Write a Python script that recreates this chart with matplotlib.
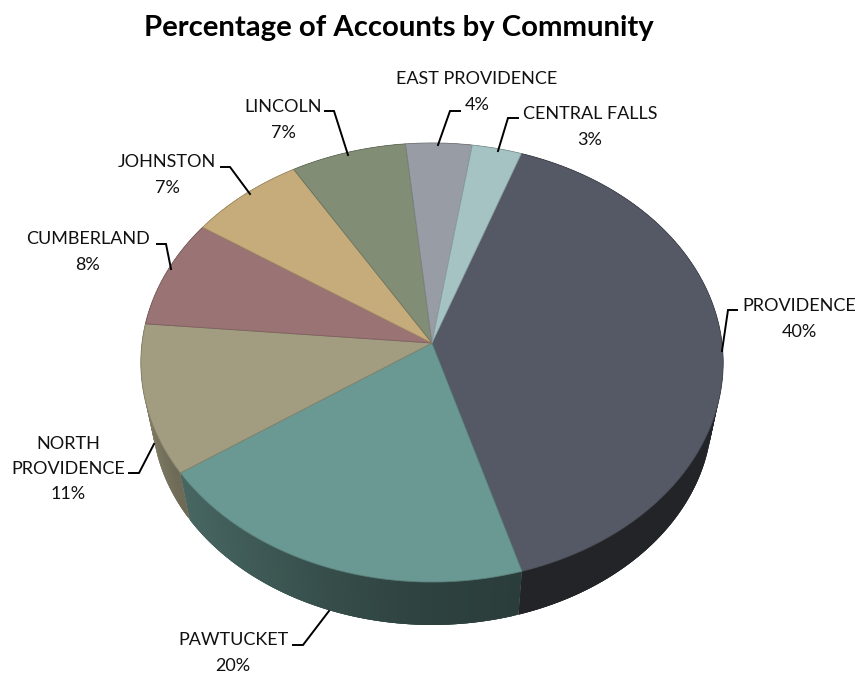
import numpy as np
import matplotlib
matplotlib.use("Agg")
import matplotlib.pyplot as plt
from matplotlib.colors import to_rgb

plt.rcParams["font.family"] = ["Lato", "DejaVu Sans"]

# =============================================================================
#  Data
# =============================================================================

communities = [
    "PROVIDENCE",
    "PAWTUCKET",
    "NORTH\nPROVIDENCE",
    "CUMBERLAND",
    "JOHNSTON",
    "LINCOLN",
    "EAST PROVIDENCE",
    "CENTRAL FALLS",
]
percentages = [40, 20, 11, 8, 7, 7, 4, 3]
colours = [
    "#555965",
    "#6a9892",
    "#a29d80",
    "#9a7374",
    "#c6ac7b",
    "#828d75",
    "#989ca4",
    "#a6c3c3",
]

# label centre (x, y) and leader line vertices, in figure pixels
label_pos = [(799, 319), (233, 653), (68, 469), (88, 252), (167, 175), (283, 120), (477, 92), (590, 127)]
leaders = [
    [(737, 310), (728, 310), (722, 351)],
    [(293, 645), (303, 645), (329, 611)],
    [(129, 473), (139, 473), (154, 444)],
    [(157, 244), (166, 244), (171, 269)],
    [(221, 167), (230, 167), (250, 194)],
    [(325, 111), (334, 111), (348, 155)],
    [(460, 111), (450, 111), (438, 145)],
    [(518, 118), (508, 118), (498, 151)],
]

# =============================================================================
#  Projection of the tilted disc
# =============================================================================

START_ANGLE = 19.5
CX, CY = 432, 343
KX, KY, PERSP = 290, 217.8, 0.0888
BOTTOM_CY, BOTTOM_SCALE = 395, 0.962


def project(theta, cy=CY, scale=1.0):
    "Map clockwise degrees from 12 o'clock to screen pixels"
    u = np.sin(np.radians(theta))
    v = np.cos(np.radians(theta))
    div = 1 + PERSP * v
    return CX + scale * KX * u / div, cy - scale * KY * v / div


def side_shade(theta):
    "Brightness of the rim, darkest towards the lower right"
    u = np.sin(np.radians(theta))
    return np.interp(u, [-1.0, -0.85, -0.3, 0.0, 0.3, 1.0], [0.80, 0.68, 0.50, 0.43, 0.40, 0.40])


# =============================================================================
#  Draw
# =============================================================================

fig = plt.figure(figsize=(8.58, 6.75), dpi=100)
ax = fig.add_axes([0, 0, 1, 1])
ax.set_xlim(0, 858)
ax.set_ylim(675, 0)
ax.axis("off")

edges = START_ANGLE + np.cumsum([0] + percentages) * 3.6

# rim first, the top face covers whatever is behind it
# strips overlap their neighbour so no seams show between them
for i, col in enumerate(colours):
    base = np.array(to_rgb(col))
    thetas = np.arange(edges[i], edges[i + 1], 0.5)
    for a in thetas:
        b = min(a + 1.5, edges[i + 1])
        x1, y1 = project(np.array([a, b]))
        x2, y2 = project(np.array([b, a]), cy=BOTTOM_CY, scale=BOTTOM_SCALE)
        shade = np.clip(base * side_shade(a + 0.25), 0, 1)
        ax.fill(np.r_[x1, x2], np.r_[y1, y2], facecolor=shade, edgecolor="none", zorder=2)

for i, col in enumerate(colours):
    thetas = np.linspace(edges[i], edges[i + 1], 200)
    x, y = project(thetas)
    edge = np.array(to_rgb(col)) * 0.82
    ax.fill(np.r_[CX, x], np.r_[CY, y], facecolor=col, edgecolor=edge, lw=0.6, zorder=3)

for name, pct, (lx, ly), line in zip(communities, percentages, label_pos, leaders):
    ax.text(lx, ly, f"{name}\n{pct}%", ha="center", va="center", fontsize=13,
            color="#111111", linespacing=1.7, zorder=5)
    xs, ys = zip(*line)
    ax.plot(xs, ys, color="black", lw=1.4, solid_joinstyle="miter", zorder=4)

ax.text(399, 28, "Percentage of Accounts by Community", ha="center", va="center",
        fontsize=21.1, fontweight="bold", color="black")

fig.savefig("out.png", dpi=100)
